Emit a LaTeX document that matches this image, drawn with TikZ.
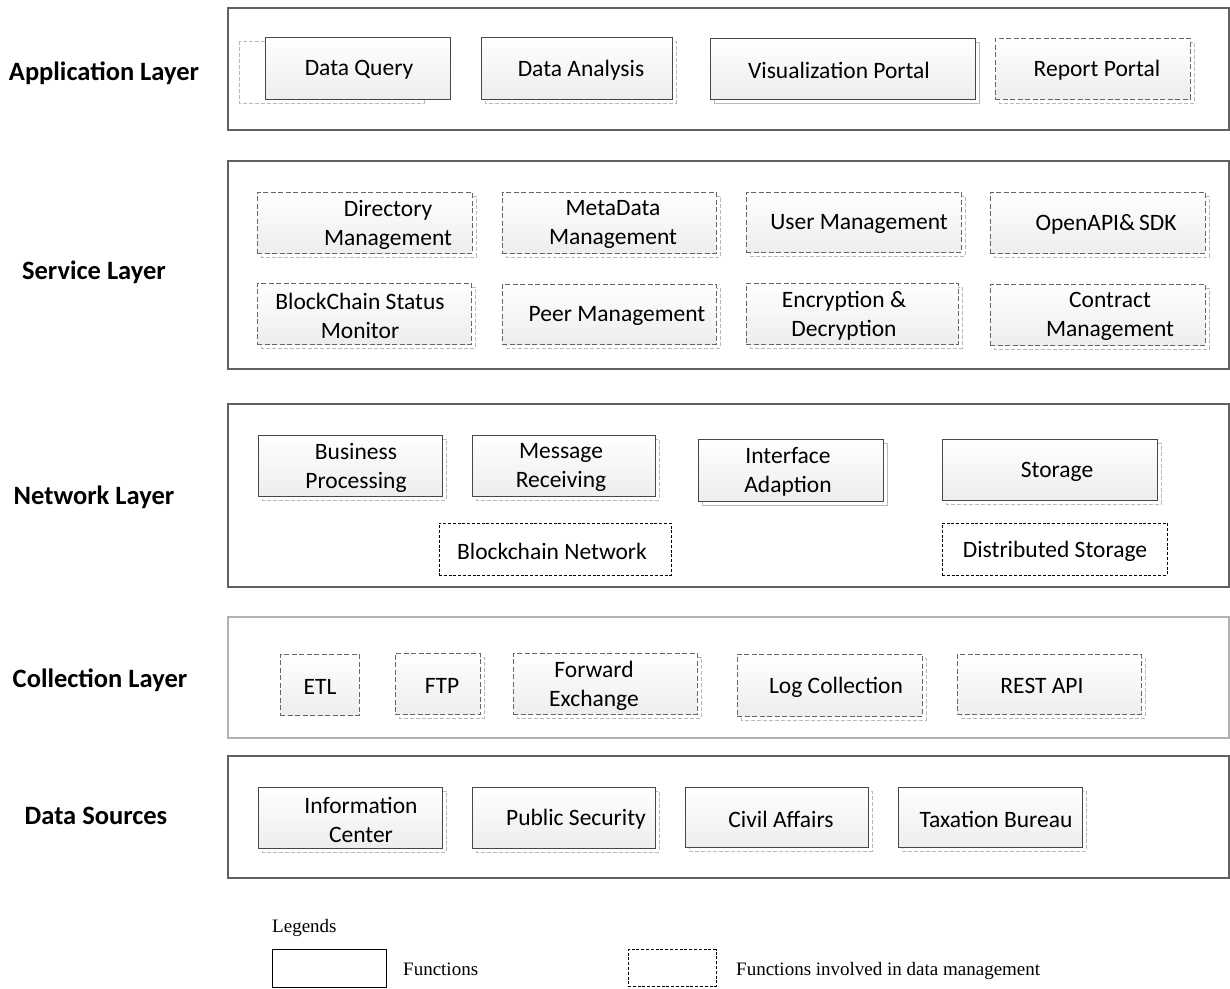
\documentclass[tikz,border=0pt]{standalone}
\usepackage{fontspec}
\setmainfont{Carlito}
\newfontfamily\legendfont{Liberation Serif}
\begin{document}
\begin{tikzpicture}[x=1pt,y=-1pt,
  layerbox/.style={draw=gray!75!black, line width=1.3pt},
  layertitle/.style={font=\fontsize{26.5}{31}\selectfont\bfseries, inner sep=0pt},
  plainbox/.style={draw=black!72, line width=0.95pt, top color=white, bottom color=gray!14, inner sep=0pt, outer sep=0pt},
  dashbox/.style={plainbox, draw=black!60, dash pattern=on 5pt off 2.5pt},
  netbox/.style={draw=black, line width=0.9pt, dash pattern=on 3pt off 1.8pt, fill=white, inner sep=0pt},
  shadowline/.style={draw=gray!55, line width=0.7pt, fill=white},
  shadowdash/.style={shadowline, dash pattern=on 4pt off 2pt},
  boxtext/.style={font=\fontsize{23.5}{29}\selectfont, align=center, inner sep=0pt, yshift=-2pt},
  legendtext/.style={font=\legendfont\fontsize{19}{23}\selectfont, inner sep=0pt, anchor=base west}]

\useasboundingbox (0,0) rectangle (1230,988);

% #1 name, #2 box style, #3 shadow style, #4..#7 corners, #8 text x, #9 text
\newcommand{\funcbox}[9]{%
  \draw[#3] (#4+4,#5+4) rectangle (#6+4,#7+4);
  \node[#2, minimum width={#6-#4}, minimum height={#7-#5}] (#1) at ({(#4+#6)/2},{(#5+#7)/2}) {};
  \node[boxtext] (#1-t) at (#8,{(#5+#7)/2}) {#9};
}

% ---------------- layer frames ----------------
\draw[layerbox] (228,8) rectangle (1229,130);
\draw[layerbox] (228,161) rectangle (1229,369);
\draw[layerbox] (228,404) rectangle (1229,587);
\draw[layerbox, draw=gray!60] (228,617) rectangle (1229,738);
\draw[layerbox] (228,756) rectangle (1229,878);

\node[layertitle] (app)  at (104,73)  {Application Layer};
\node[layertitle] (serv) at (94,272)  {Service Layer};
\node[layertitle] (net)  at (94,497)  {Network Layer};
\node[layertitle] (coll) at (100,680) {Collection Layer};
\node[layertitle] (src)  at (96,816)  {Data Sources};

% ---------------- application layer ----------------
\draw[shadowdash] (239,41) rectangle (424,103);
\node[plainbox, minimum width=185, minimum height=62] (dq) at (357.5,68) {};
\node[boxtext] (dq-t) at (359,68) {Data Query};
\funcbox{da}{plainbox}{shadowdash}{481}{37}{672}{99}{581}{Data Analysis}
\funcbox{vp}{plainbox}{shadowline}{710}{38}{975}{99}{839}{Visualization Portal}
\funcbox{rp}{dashbox}{shadowdash}{995}{38}{1190}{99}{1097}{Report Portal}

% ---------------- service layer ----------------
\funcbox{dm}{dashbox}{shadowdash}{257}{192}{472}{253}{388}{Directory\\Management}
\funcbox{mm}{dashbox}{shadowdash}{502}{192}{716}{253}{613}{MetaData\\Management}
\funcbox{um}{dashbox}{shadowdash}{746}{192}{961}{252}{859}{User Management}
\funcbox{oa}{dashbox}{shadowdash}{990}{192}{1205}{253}{1106}{OpenAPI\&\,SDK}
\funcbox{bs}{dashbox}{shadowdash}{257}{283}{471}{344}{360}{BlockChain Status\\Monitor}
\funcbox{pm}{dashbox}{shadowdash}{502}{284}{716}{344}{617}{Peer Management}
\funcbox{ed}{dashbox}{shadowdash}{746}{283}{958}{344}{844}{Encryption \&\\Decryption}
\funcbox{cm}{dashbox}{shadowdash}{990}{284}{1205}{345}{1110}{Contract\\Management}

% ---------------- network layer ----------------
\funcbox{bp}{plainbox}{shadowdash}{258}{435}{442}{496}{356}{Business\\Processing}
\funcbox{mr}{plainbox}{shadowdash}{472}{435}{655}{496}{561}{Message\\Receiving}
\funcbox{ia}{plainbox}{shadowline}{698}{439}{883}{501}{788}{Interface\\Adaption}
\funcbox{st}{plainbox}{shadowdash}{942}{439}{1157}{500}{1057}{Storage}
\node[netbox, minimum width=232, minimum height=52] (bn) at (555,549) {};
\node[boxtext] (bn-t) at (552,549) {Blockchain Network};
\node[netbox, minimum width=225, minimum height=52] (ds) at (1054.5,549) {};
\node[boxtext] (ds-t) at (1055,549) {Distributed Storage};

% ---------------- collection layer ----------------
\node[dashbox, minimum width=79, minimum height=61] (etl) at (319.5,684.5) {};
\node[boxtext] (etl-t) at (320,685) {ETL};
\funcbox{ftp}{dashbox}{shadowdash}{395}{653}{480}{714}{442}{FTP}
\funcbox{fe}{dashbox}{shadowdash}{513}{653}{697}{714}{594}{Forward\\Exchange}
\funcbox{lc}{dashbox}{shadowdash}{737}{654}{922}{716}{836}{Log Collection}
\funcbox{ra}{dashbox}{shadowdash}{957}{654}{1141}{714}{1042}{REST API}

% ---------------- data sources ----------------
\funcbox{ic}{plainbox}{shadowdash}{258}{787}{442}{848}{361}{Information\\Center}
\funcbox{ps}{plainbox}{shadowdash}{472}{787}{655}{848}{576}{Public Security}
\funcbox{ca}{plainbox}{shadowdash}{685}{787}{868}{847}{781}{Civil Affairs}
\funcbox{tb}{plainbox}{shadowdash}{898}{787}{1082}{847}{996}{Taxation Bureau}

% ---------------- legend ----------------
\node[legendtext] (lg) at (272,932) {Legends};
\node[draw=black, line width=0.9pt, minimum width=114, minimum height=38, inner sep=0pt] (lgs) at (329,968) {};
\node[legendtext] (lgs-t) at (403,975) {Functions};
\node[netbox, minimum width=88, minimum height=37] (lgd) at (672,968) {};
\node[legendtext] (lgd-t) at (736,975) {Functions involved in data management};

\end{tikzpicture}
\end{document}
